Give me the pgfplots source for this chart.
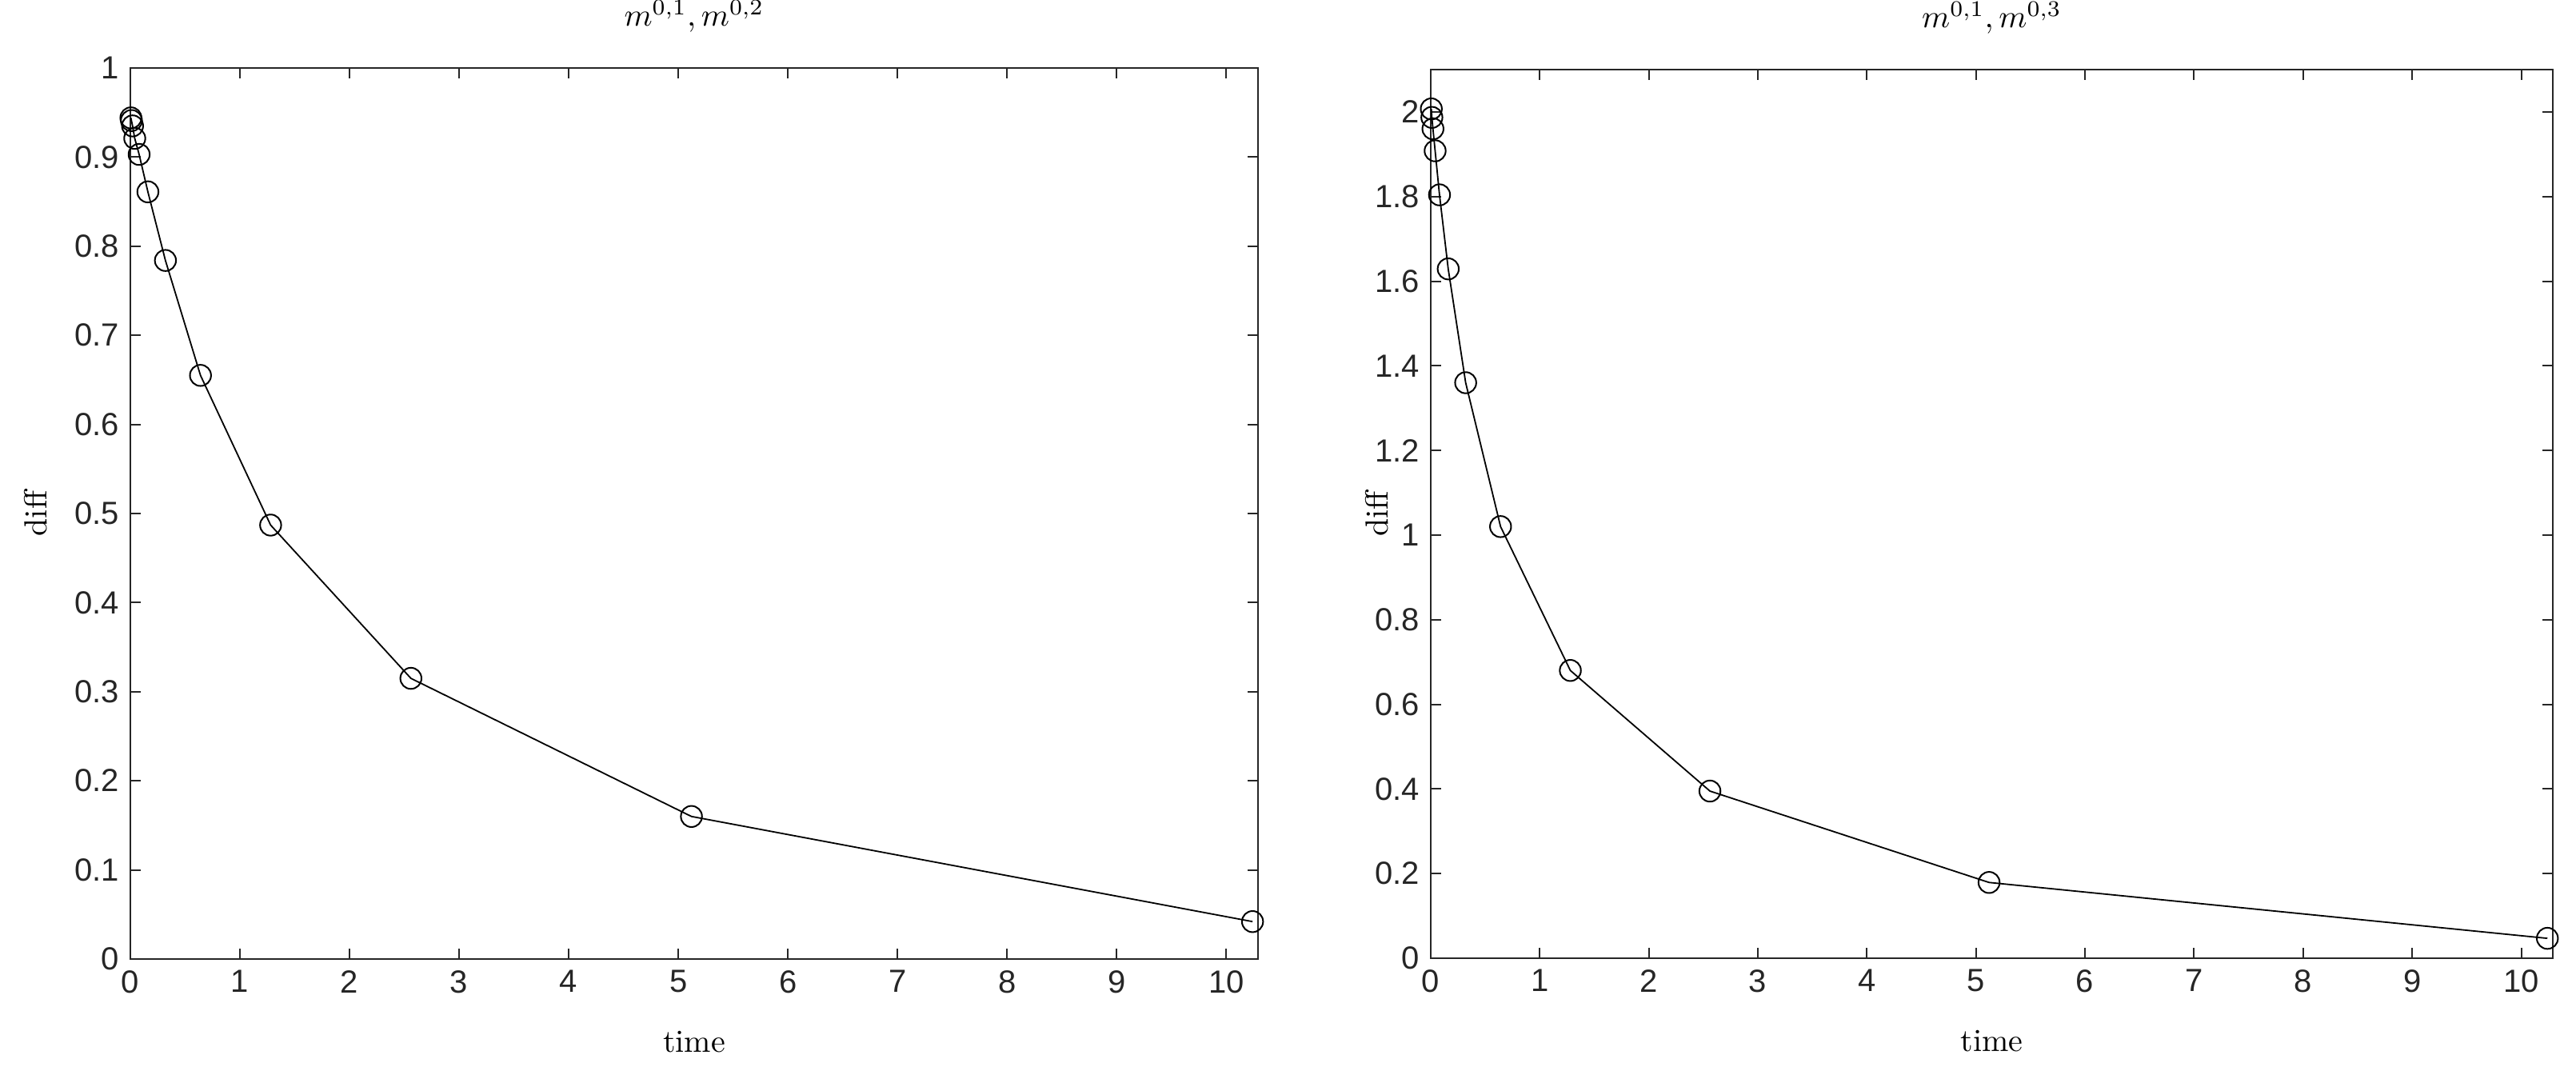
\documentclass[border=0pt]{standalone}
\usepackage{fontspec}
\usepackage{pgfplots}
\pgfplotsset{compat=1.18}
\newfontfamily\tickfont{Liberation Sans}
\definecolor{axgray}{gray}{0.15}
\pgfplotsset{
  mystyle/.style={
    scale only axis,
    axis line style={axgray, line width=0.55pt},
    every tick/.style={axgray, line width=0.5pt},
    tick align=inside,
    tick pos=both,
    major tick length=3.3pt,
    xmin=0, xmax=10.29,
    xtick={0,1,...,10},
    ymin=0,
    ticklabel style={font=\tickfont\fontsize{10}{12}\selectfont, text=axgray},
    /pgf/number format/assume math mode=true,
    /pgf/number format/fixed,
    xlabel={time},
    ylabel={diff},
    title style={font=\fontsize{10}{12}\selectfont, at={(axis description cs:0.5,1)}, anchor=base, yshift=7pt, inner sep=0pt},
    label style={font=\fontsize{10}{12}\selectfont},
    xlabel style={at={(axis description cs:0.5,-0.093)}, anchor=center},
  },
  myplot/.style={black, line width=0.45pt, mark=o, mark size=3.3pt, mark options={line width=0.5pt, fill=none, draw=black}},
}
\pgfplotstableread{
t d
0.005 0.944
0.01 0.941
0.02 0.935
0.04 0.921
0.08 0.903
0.16 0.861
0.32 0.784
0.64 0.655
1.28 0.487
2.56 0.315
5.12 0.160
10.24 0.042
}\lefttable
\pgfplotstableread{
t d
0.005 2.007
0.01 1.987
0.02 1.960
0.04 1.908
0.08 1.804
0.16 1.629
0.32 1.360
0.64 1.020
1.28 0.680
2.56 0.395
5.12 0.179
10.24 0.047
}\righttable
\begin{document}
\begin{tikzpicture}
\path[use as bounding box] (-40.75pt,-34.75pt) rectangle (764.5pt,299.75pt);
\begin{axis}[mystyle,
  at={(0pt,0pt)}, anchor=south west,
  width=352.5pt, height=278.5pt,
  ymax=1, ytick={0,0.1,...,1},
  yticklabels={0,0.1,0.2,0.3,0.4,0.5,0.6,0.7,0.8,0.9,1},
  ylabel style={at={(axis description cs:-0.084,0.5)}, anchor=center},
  title={$m^{0,1}, m^{0,2}$}]
\addplot[myplot] table[x=t,y=d] {\lefttable};
\end{axis}
\begin{axis}[mystyle,
  at={(406.5pt,0.25pt)}, anchor=south west,
  width=350.75pt, height=277.75pt,
  ymax=2.1, ytick={0,0.2,...,2},
  yticklabels={0,0.2,0.4,0.6,0.8,1,1.2,1.4,1.6,1.8,2},
  ylabel style={at={(axis description cs:-0.048,0.5)}, anchor=center},
  title={$m^{0,1}, m^{0,3}$}]
\addplot[myplot] table[x=t,y=d] {\righttable};
\end{axis}
\end{tikzpicture}
\end{document}
